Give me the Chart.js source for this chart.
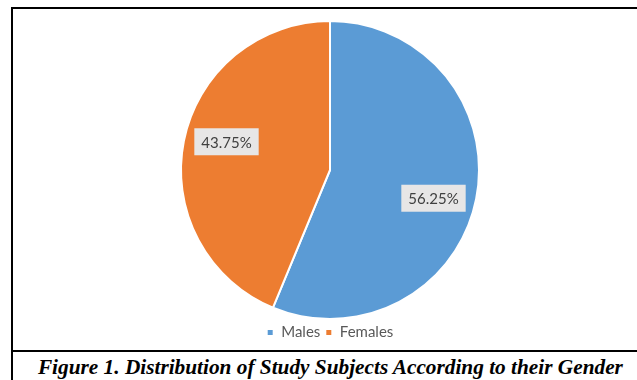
<!DOCTYPE html>
<html lang="en">
<head>
    <meta charset="UTF-8">
    <title>Distribution of Study Subjects According to their Gender</title>
    <script src="https://cdn.jsdelivr.net/npm/chart.js@4.4.0/dist/chart.umd.min.js"></script>
    <style>
        body {
            margin: 0;
            background: #fff;
            overflow: hidden;
        }

        /* 外枠（右端は画面外） */
        .frame {
            position: absolute;
            left: 11px;
            top: 7px;
            width: 634px;
            border: 2px solid #000;
        }

        .chart-box {
            position: relative;
            width: 634px;
            height: 341px;
        }

        .caption {
            border-top: 2px solid #000;
            height: 30px;
            line-height: 30px;
            text-align: center;
            font-family: "Liberation Serif", serif;
            font-weight: bold;
            font-style: italic;
            font-size: 21px;
            color: #000;
            white-space: nowrap;
        }

        .caption span {
            display: inline-block;
            transform-origin: center;
        }
    </style>
</head>
<body>
<div class="frame">
    <div class="chart-box">
        <canvas id="genderChart"></canvas>
    </div>
    <div class="caption"><span id="captionText">Figure 1. Distribution of Study Subjects According to their Gender</span></div>
</div>

<script>
    // データ
    const categories = ['Males', 'Females'];
    const percentages = [56.25, 43.75];
    const sliceColors = ['#5B9BD5', '#ED7D31'];

    // キャプション幅を元図に合わせる
    const cap = document.getElementById('captionText');
    cap.style.transform = 'scaleX(' + (585 / cap.getBoundingClientRect().width) + ')';

    // スライス上のラベル（灰色の箱）
    const boxLabels = {
        id: 'boxLabels',
        afterDatasetsDraw(chart) {
            const ctx = chart.ctx;
            const meta = chart.getDatasetMeta(0);
            ctx.save();
            ctx.font = '15px Lato, "Liberation Sans", sans-serif';
            ctx.textAlign = 'center';
            ctx.textBaseline = 'middle';
            meta.data.forEach(function (arc, i) {
                const p = arc.getProps(['x', 'y', 'startAngle', 'endAngle', 'outerRadius'], true);
                const mid = (p.startAngle + p.endAngle) / 2 + 0.07;
                const r = p.outerRadius * 0.72;
                const cx = p.x + Math.cos(mid) * r;
                const cy = p.y + Math.sin(mid) * r;
                const text = percentages[i].toFixed(2) + '%';
                const w = ctx.measureText(text).width + 14;
                const h = 27;
                ctx.fillStyle = '#E7E6E6';
                ctx.fillRect(cx - w / 2, cy - h / 2, w, h);
                ctx.fillStyle = '#404040';
                ctx.fillText(text, cx, cy + 1);
            });
            ctx.restore();
        }
    };

    const genderChart = new Chart(
        document.getElementById('genderChart'),
        {
            type: 'pie',
            data: {
                labels: categories,
                datasets: [{
                    data: percentages,
                    backgroundColor: sliceColors,
                    borderColor: '#fff',
                    borderWidth: 2
                }]
            },
            options: {
                responsive: true,
                maintainAspectRatio: false,
                animation: false,
                layout: {
                    padding: { top: 11, bottom: 0 }
                },
                plugins: {
                    legend: {
                        position: 'bottom',
                        labels: {
                            boxWidth: 7,
                            boxHeight: 7,
                            padding: 5,
                            color: '#595959',
                            font: { family: 'Lato, "Liberation Sans", sans-serif', size: 15 }
                        }
                    },
                    tooltip: { enabled: false }
                }
            },
            plugins: [boxLabels]
        }
    );
</script>
</body>
</html>
